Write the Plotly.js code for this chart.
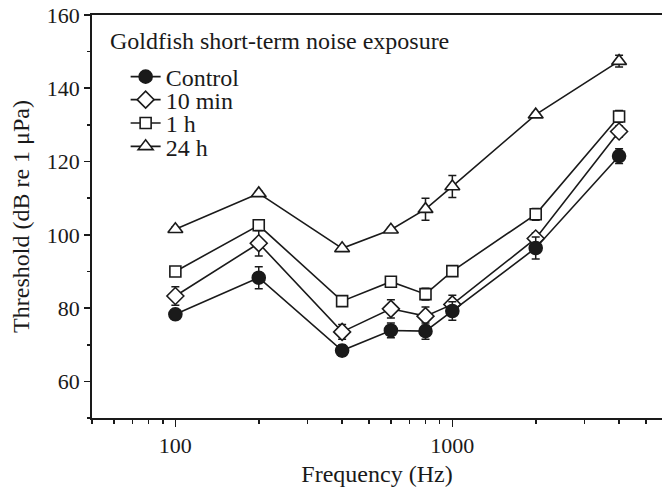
<!DOCTYPE html>
<html>
<head>
<meta charset="utf-8">
<script src="https://cdn.plot.ly/plotly-3.0.1.min.js"></script>
<style>html,body{margin:0;padding:0;background:#fff;}#chart{width:662px;height:490px;}</style>
</head>
<body>
<div id="chart"></div>
<script>
// Frequencies (Hz)
const freq = [100, 200, 400, 600, 800, 1000, 2000, 4000];
// Thresholds (dB re 1 uPa)
const control = [78.3, 88.3, 68.4, 73.9, 73.7, 79.2, 96.4, 121.5];
const min10   = [83.3, 97.7, 73.5, 79.8, 77.8, 81.0, 99.0, 128.2];
const h1      = [90.0, 102.6, 81.9, 87.2, 83.8, 90.1, 105.6, 132.3];
const h24     = [101.5, 111.3, 96.3, 101.4, 107.0, 113.2, 132.8, 147.4];
// Error bars (±)
const controlErr = [1.0, 3.0, 1.5, 2.0, 2.2, 2.5, 3.0, 2.0];
const min10Err   = [2.5, 3.5, 2.0, 2.5, 2.5, 2.5, 1.5, 1.5];
const h1Err      = [1.2, 1.2, 0.6, 1.0, 1.6, 0.6, 1.6, 1.6];
const h24Err     = [0.6, 0.6, 0.6, 0.6, 3.0, 3.0, 0.6, 1.6];

const seriesNames = ["Control", "10 min", "1 h", "24 h"];
const titleText = "Goldfish short-term noise exposure";

const FONT = "Liberation Serif";
const INK = "#1a1a1a";

function mk(name, y, err, symbol, fill, size, legendId) {
  return {
    x: freq, y: y, name: name, type: "scatter", mode: "lines+markers",
    line: {color: INK, width: 1.6},
    marker: {symbol: symbol, size: size, color: fill, line: {color: INK, width: 1.6}},
    error_y: {type: "data", array: err, visible: true, color: INK, thickness: 1.5, width: 4},
    legend: legendId
  };
}

const data = [
  mk(seriesNames[3], h24, h24Err, "triangle-up", "#fff", 13, "legend4"),
  mk(seriesNames[2], h1, h1Err, "square", "#fff", 11, "legend3"),
  mk(seriesNames[1], min10, min10Err, "diamond", "#fff", 13, "legend2"),
  mk(seriesNames[0], control, controlErr, "circle", INK, 13, "legend")
];

function leg(yc) {
  return {x: 0.059, y: yc, xanchor: "left", yanchor: "middle", bgcolor: "rgba(0,0,0,0)",
          font: {family: FONT, size: 24, color: INK}, borderwidth: 0};
}

const layout = {
  width: 662, height: 490,
  margin: {l: 92, r: 0, t: 15, b: 72},
  paper_bgcolor: "#fff", plot_bgcolor: "#fff",
  font: {family: FONT, size: 22, color: INK},
  showlegend: true,
  legend: leg(0.846),
  legend2: leg(0.789),
  legend3: leg(0.731),
  legend4: leg(0.673),
  xaxis: {
    type: "log",
    range: [Math.log10(50), Math.log10(5715)],
    tickmode: "array", tickvals: [100, 1000], ticktext: ["100", "1000"],
    ticks: "outside", ticklen: 7, tickwidth: 1.6, tickcolor: INK,
    minor: {tickmode: "array", tickvals: [50, 60, 70, 80, 90, 200, 300, 400, 500, 600, 700, 800, 900, 2000, 3000, 4000, 5000],
            ticks: "outside", ticklen: 4, tickwidth: 1.6, tickcolor: INK, showgrid: false},
    showline: true, linewidth: 1.8, linecolor: INK, mirror: true,
    showgrid: false, zeroline: false,
    tickfont: {family: FONT, size: 22, color: INK},
    title: {text: "Frequency (Hz)", font: {family: FONT, size: 24, color: INK}, standoff: 8}
  },
  yaxis: {
    range: [50, 160],
    tickmode: "linear", tick0: 60, dtick: 20,
    ticks: "outside", ticklen: 6, tickwidth: 1.6, tickcolor: INK,
    minor: {dtick: 10, tick0: 50, ticks: "outside", ticklen: 3, tickwidth: 1.6, tickcolor: INK, showgrid: false},
    showline: true, linewidth: 1.8, linecolor: INK, mirror: false,
    showgrid: false, zeroline: false,
    tickfont: {family: FONT, size: 22, color: INK},
    title: {text: "Threshold (dB re 1 μPa)", font: {family: FONT, size: 24, color: INK}, standoff: 10}
  },
  annotations: [{
    text: titleText, xref: "paper", yref: "paper", x: 0.028, y: 0.935,
    xanchor: "left", yanchor: "middle", showarrow: false,
    font: {family: FONT, size: 24, color: INK}
  }]
};

Plotly.newPlot("chart", data, layout, {displayModeBar: false, staticPlot: true});
</script>
</body>
</html>
